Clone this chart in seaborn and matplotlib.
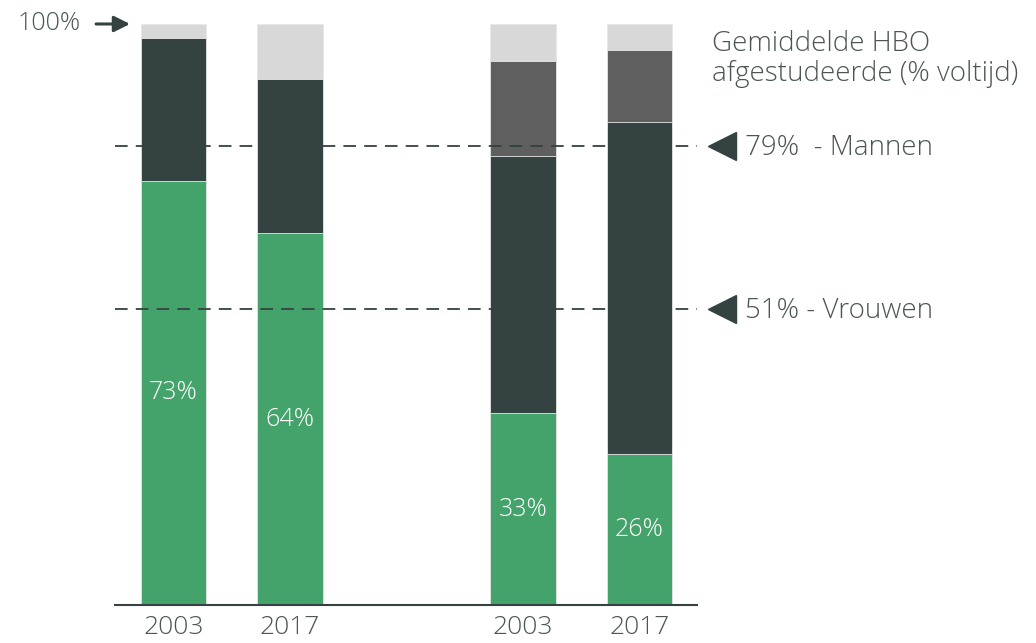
import pandas as pd
import seaborn as sns
import matplotlib.pyplot as plt

# values (percent of graduates)
years = ["2003", "2017", "2003", "2017"]
positions = [0, 1, 3, 4]
green = [73, 64, 33, 26]
dark = [24.6, 26.5, 44.2, 57.2]
medium = [0, 0, 16.5, 12.3]
total = [100, 100, 100, 100]
labels = ["73%", "64%", "33%", "26%"]
ref_lines = [79, 51]
ref_labels = ["79%  - Mannen", "51% - Vrouwen"]

df = pd.DataFrame({"pos": positions, "green": green, "dark": dark, "medium": medium, "total": total})
df["dark_top"] = df["green"] + df["dark"]
df["medium_top"] = df["dark_top"] + df["medium"]

c_green = "#44A36A"
c_dark = "#344241"
c_medium = "#5F5F5F"
c_light = "#D8D8D8"
c_text = "#4B5553"

sns.set_style("white")
plt.rcParams["font.family"] = ["Open Sans", "DejaVu Sans"]

fig = plt.figure(figsize=(10.36, 6.43), dpi=100)
ax = fig.add_axes([0.111, 0.0591, 0.5618, 0.9036])

for col, colour in [("total", c_light), ("medium_top", c_medium), ("dark_top", c_dark), ("green", c_green)]:
    sns.barplot(data=df, x="pos", y=col, native_scale=True, color=colour, width=0.56,
                errorbar=None, saturation=1, ax=ax, edgecolor="#E8E8E8", linewidth=0.6)

for p, g, lab in zip(positions, green, labels):
    ax.text(p, g / 2, lab, ha="center", va="center", color="white", fontsize=18, fontweight="light")

for y, lab in zip(ref_lines, ref_labels):
    ax.axhline(y, color=c_dark, lw=1.3, dashes=(7, 4.5), zorder=5)
    ax.plot([4.708], [y], marker="<", markersize=20, color=c_dark, clip_on=False, zorder=6)
    ax.text(4.906, y - 0.4, lab, ha="left", va="center", color=c_text, fontsize=20, fontweight="light",
            clip_on=False)

fig.text(0.687, 0.908, "Gemiddelde HBO\nafgestudeerde (% voltijd)", ha="left", va="center",
         color=c_text, fontsize=20, fontweight="light", linespacing=1.12)

ax.annotate("100%", xy=(-0.373, 100), xytext=(-0.80, 100), ha="right", va="center",
            color=c_text, fontsize=18, fontweight="light", annotation_clip=False,
            arrowprops=dict(arrowstyle="-|>", color=c_dark, lw=2.2, mutation_scale=24,
                            shrinkA=9, shrinkB=0))

ax.set_xlim(-0.502, 4.494)
ax.set_ylim(0, 100)
ax.set_xticks(positions)
ax.set_xticklabels(years, fontsize=19, color=c_text, fontweight="light")
ax.set_yticks([])
ax.set_xlabel("")
ax.set_ylabel("")
ax.tick_params(axis="x", length=0, pad=7)
for s in ["top", "right", "left"]:
    ax.spines[s].set_visible(False)
ax.spines["bottom"].set_color(c_dark)
ax.spines["bottom"].set_linewidth(1.5)

fig.savefig("out.png", dpi=100)
